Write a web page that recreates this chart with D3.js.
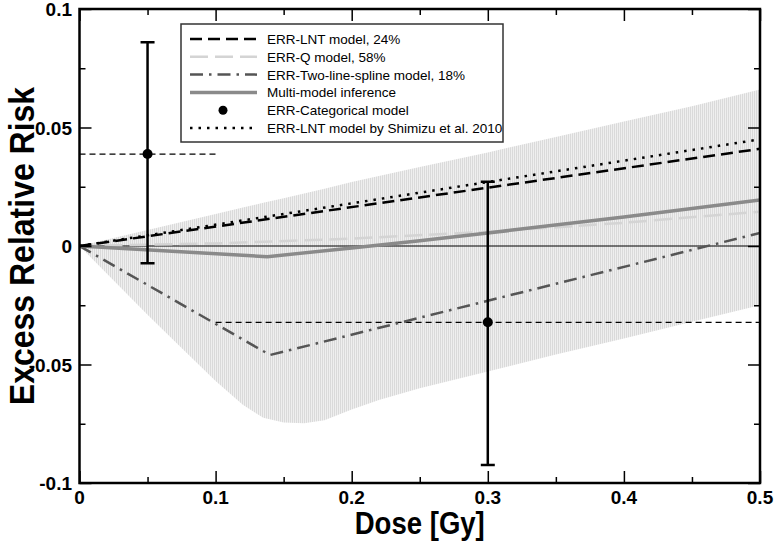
<!DOCTYPE html>
<html>
<head>
<meta charset="utf-8">
<script src="https://cdn.jsdelivr.net/npm/d3@7"></script>
<style>
  html, body { margin: 0; padding: 0; background: #fff; }
  svg { display: block; font-family: "Liberation Sans", Arial, Helvetica, sans-serif; }
</style>
</head>
<body>
<svg id="chart" width="774" height="541"></svg>
<script>
// ---------------- data ----------------
const xTicks = [0, 0.1, 0.2, 0.3, 0.4, 0.5];
const xTickLabels = ["0", "0.1", "0.2", "0.3", "0.4", "0.5"];
const yTicks = [-0.1, -0.05, 0, 0.05, 0.1];
const yTickLabels = ["-0.1", "-0.05", "0", "0.05", "0.1"];
const xMinor = [0.05, 0.15, 0.25, 0.35, 0.45];
const yMinor = [-0.075, -0.025, 0.025, 0.075];

const lntDose = [0, 0.5];
const lntERR = [0, 0.041];
const shimizuDose = [0, 0.5];
const shimizuERR = [0, 0.045];
const qDose = [0, 0.1, 0.2, 0.3, 0.4, 0.5];
const qERR = [0, 0.0011, 0.0031, 0.006, 0.0098, 0.0145];
const splineDose = [0, 0.14, 0.5];
const splineERR = [0, -0.046, 0.0055];
const mmiDose = [0, 0.138, 0.2, 0.25, 0.3, 0.4, 0.5];
const mmiERR = [0, -0.0045, -0.0008, 0.0022, 0.0055, 0.0122, 0.0194];

const bandDose = [0, 0.05, 0.075, 0.1, 0.12, 0.135, 0.15, 0.165, 0.18, 0.2, 0.22, 0.25, 0.3, 0.35, 0.4, 0.45, 0.5];
const bandLow  = [0, -0.029, -0.043, -0.057, -0.067, -0.0725, -0.0745, -0.0748, -0.0735, -0.069, -0.065, -0.060, -0.053, -0.0458, -0.039, -0.032, -0.025];
const bandHigh = [0, 0.0068, 0.0101, 0.0135, 0.0162, 0.0182, 0.0202, 0.0222, 0.0242, 0.027, 0.0295, 0.0333, 0.0395, 0.046, 0.0525, 0.059, 0.066];

const catDose = [0.05, 0.3];
const catERR = [0.0388, -0.0322];
const catLo = [-0.0073, -0.0924];
const catHi = [0.086, 0.0271];
const catBinLo = [0, 0.1];
const catBinHi = [0.1, 0.5];

const legendLabels = [
  "ERR-LNT model, 24%",
  "ERR-Q model, 58%",
  "ERR-Two-line-spline model, 18%",
  "Multi-model inference",
  "ERR-Categorical model",
  "ERR-LNT model by Shimizu et al. 2010"
];

// ---------------- layout ----------------
const L = 79.5, R = 760, T = 9, B = 483;
const svg = d3.select("#chart");
const x = d3.scaleLinear().domain([0, 0.5]).range([L, R]);
const y = d3.scaleLinear().domain([-0.1, 0.1]).range([B, T]);

const defs = svg.append("defs");
const pat = defs.append("pattern").attr("id", "hatch").attr("patternUnits", "userSpaceOnUse")
  .attr("width", 2).attr("height", 4);
pat.append("rect").attr("width", 2).attr("height", 4).attr("fill", "#efefef");
pat.append("rect").attr("x", 0).attr("width", 1).attr("height", 4).attr("fill", "#dadada");
defs.append("clipPath").attr("id", "clip").append("rect")
  .attr("x", L).attr("y", T).attr("width", R - L).attr("height", B - T);

const plot = svg.append("g").attr("clip-path", "url(#clip)");

// band
const band = bandDose.map((d, i) => ({d, lo: bandLow[i], hi: bandHigh[i]}));
plot.append("path").datum(band)
  .attr("d", d3.area().x(p => x(p.d)).y0(p => y(p.lo)).y1(p => y(p.hi)))
  .attr("fill", "url(#hatch)");

// zero line
plot.append("line").attr("x1", x(0)).attr("x2", x(0.5)).attr("y1", y(0)).attr("y2", y(0))
  .attr("stroke", "#000").attr("stroke-width", 1);

const line = d3.line().x(p => x(p[0])).y(p => y(p[1]));
function series(ds, vs) { return ds.map((d, i) => [d, vs[i]]); }

const styles = [
  {stroke: "#000", width: 2.5, dash: "12,6"},
  {stroke: "#d4d4d4", width: 2.5, dash: "18,7"},
  {stroke: "#555", width: 2.5, dash: "13,6,2.5,6"},
  {stroke: "#8a8a8a", width: 3.5, dash: null},
  null,
  {stroke: "#000", width: 2.5, dash: "2.5,6"}
];

function drawLine(data, st) {
  const p = plot.append("path").datum(data).attr("d", line)
    .attr("fill", "none").attr("stroke", st.stroke).attr("stroke-width", st.width);
  if (st.dash) p.attr("stroke-dasharray", st.dash);
}

// categorical bin lines
catDose.forEach((d, i) => {
  plot.append("line").attr("x1", x(catBinLo[i])).attr("x2", x(catBinHi[i]))
    .attr("y1", y(catERR[i])).attr("y2", y(catERR[i]))
    .attr("stroke", "#000").attr("stroke-width", 1.3).attr("stroke-dasharray", "6,4");
});

drawLine(series(qDose, qERR), styles[1]);
drawLine(series(splineDose, splineERR), styles[2]);
drawLine(series(mmiDose, mmiERR), styles[3]);
drawLine(series(lntDose, lntERR), styles[0]);
drawLine(series(shimizuDose, shimizuERR), styles[5]);

// error bars
catDose.forEach((d, i) => {
  const g = plot.append("g");
  g.append("line").attr("x1", x(d)).attr("x2", x(d)).attr("y1", y(catLo[i])).attr("y2", y(catHi[i]))
    .attr("stroke", "#000").attr("stroke-width", 2.5);
  [catLo[i], catHi[i]].forEach(v => {
    g.append("line").attr("x1", x(d) - 7).attr("x2", x(d) + 7).attr("y1", y(v)).attr("y2", y(v))
      .attr("stroke", "#000").attr("stroke-width", 2.5);
  });
  g.append("circle").attr("cx", x(d)).attr("cy", y(catERR[i])).attr("r", 5).attr("fill", "#000");
});

// ---------------- axes ----------------
const axG = svg.append("g");
function tickAxis(axisFn, scale, vals, size, transform) {
  axG.append("g").attr("transform", transform)
    .call(axisFn(scale).tickValues(vals).tickSize(size).tickFormat(""))
    .call(g => g.select(".domain").remove())
    .call(g => g.selectAll("line").attr("stroke", "#000").attr("stroke-width", 1.5));
}
tickAxis(d3.axisBottom, x, xTicks, -12, `translate(0,${B})`);
tickAxis(d3.axisBottom, x, xMinor, -6, `translate(0,${B})`);
tickAxis(d3.axisTop, x, xTicks, -12, `translate(0,${T})`);
tickAxis(d3.axisTop, x, xMinor, -6, `translate(0,${T})`);
tickAxis(d3.axisLeft, y, yTicks, -12, `translate(${L},0)`);
tickAxis(d3.axisLeft, y, yMinor, -6, `translate(${L},0)`);
tickAxis(d3.axisRight, y, yTicks, -12, `translate(${R},0)`);
tickAxis(d3.axisRight, y, yMinor, -6, `translate(${R},0)`);

axG.append("rect").attr("x", L).attr("y", T).attr("width", R - L).attr("height", B - T)
  .attr("fill", "none").attr("stroke", "#000").attr("stroke-width", 2.5);

// tick labels
xTicks.forEach((v, i) => {
  svg.append("text").attr("x", x(v)).attr("y", B + 21)
    .attr("text-anchor", "middle")
    .attr("font-size", 19).attr("font-weight", "bold").text(xTickLabels[i]);
});
yTicks.forEach((v, i) => {
  svg.append("text").attr("x", 72).attr("y", y(v) + 7)
    .attr("text-anchor", "end")
    .attr("font-size", 19).attr("font-weight", "bold").text(yTickLabels[i]);
});

// axis titles
svg.append("text").attr("transform", `translate(${(L + R) / 2},534) scale(0.95,1.08)`)
  .attr("text-anchor", "middle")
  .attr("font-size", 29).attr("font-weight", "bold").text("Dose [Gy]");
svg.append("text").attr("transform", `translate(34,${(T + B) / 2}) rotate(-90) scale(1,1.1)`)
  .attr("text-anchor", "middle").attr("font-size", 32).attr("font-weight", "bold")
  .text("Excess Relative Risk");

// ---------------- legend ----------------
const lg = svg.append("g");
lg.append("rect").attr("x", 181).attr("y", 24).attr("width", 322).attr("height", 118)
  .attr("fill", "#fff").attr("stroke", "#333").attr("stroke-width", 1.5);
legendLabels.forEach((lab, i) => {
  const cy = 39 + i * 17.8;
  const st = styles[i];
  if (st) {
    const l = lg.append("line").attr("x1", 190).attr("x2", 257).attr("y1", cy).attr("y2", cy)
      .attr("stroke", st.stroke).attr("stroke-width", st.width);
    if (st.dash) l.attr("stroke-dasharray", st.dash);
  } else {
    lg.append("circle").attr("cx", 223).attr("cy", cy).attr("r", 4.5).attr("fill", "#000");
  }
  lg.append("text").attr("x", 267).attr("y", cy + 5).attr("font-size", 13.5).attr("fill", "#000").text(lab);
});
</script>
</body>
</html>
